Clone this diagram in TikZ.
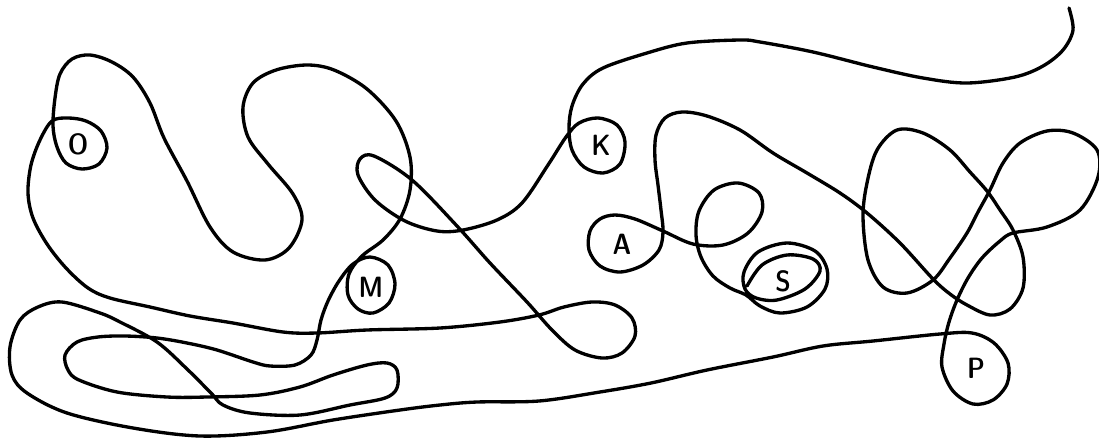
\documentclass[tikz,border=0pt]{standalone}
\tikzset{every picture/.style={line width=0.75pt}}
\tikzset{lbl/.style={inner sep=0.75pt, font=\fontsize{22}{22}\selectfont\sffamily\fontseries{sbc}\selectfont}}
\begin{document}
\begin{tikzpicture}[x=0.75pt,y=0.75pt,yscale=-1,xscale=1]
\useasboundingbox (0,0) rectangle (1099,443);

%Shape: Curve [id:scribble]
\draw [line width=2.5pt, line cap=round, line join=round] plot [smooth, tension=0.55] coordinates {
 (1069,8) (1073,30) (1063,50) (1043,66) (1015,77) (967,83) (923,78) (873,67) (813,52) (760,42) (740,40) (687,43) (647,53) (603,68) (583,84) (572,106) (569,128)
 (572,150) (584,167) (603,173) (620,164) (625,142) (617,125) (598,118) (579,123) (566,137)
 (548,165) (522,203) (497,220) (463,230) (437,231) (405,221) (375,200) (358,175) (360,159) (374,156) (412,180) (457,226) (490,263) (527,302) (552,330) (575,350) (602,358) (622,353) (635,336) (632,318) (615,305) (592,302) (564,307) (539,315) (500,322) (440,328) (367,330) (317,333) (283,332) (233,323) (190,316) (150,307) (110,298) (88,288) (66,268) (47,244) (33,218) (28,193) (31,165) (40,140) (52,121)
 (68,118) (86,121) (101,131) (107,148) (99,164) (82,169) (66,163) (57,147) (53,126)
 (55,98) (60,74) (72,59) (90,55) (112,62) (133,77) (150,103) (164,138) (187,181) (210,227) (233,252) (265,260) (289,248) (302,220) (293,194) (268,164) (248,137) (243,107) (253,83) (276,70) (307,65) (334,70) (367,89) (396,121) (410,157) (410,190) (400,219) (383,240) (362,256)
 (349,274) (348,295) (358,309) (373,313) (389,303) (395,284) (388,265) (370,257) (353,264)
 (339,281) (328,301) (321,320) (317,340) (311,355) (295,365) (270,366) (253,362) (217,350) (187,343) (157,338) (125,336) (98,337) (77,342) (65,355) (68,370) (79,380) (117,392) (167,397) (207,397) (260,395) (300,387) (333,375) (367,365) (387,363) (397,370) (397,388) (385,398) (350,405) (300,415) (250,413) (223,405) (211,393) (187,369) (157,342) (120,322) (100,313) (62,302) (38,307) (20,320) (10,347) (12,375) (27,393) (67,413) (133,428) (200,436) (267,432) (333,420) (400,410) (440,405) (477,402) (539,401) (600,392) (651,383) (707,370) (773,357) (823,346) (873,341) (940,334)
 (972,333) (994,343) (1008,363) (1007,384) (993,400) (973,404) (953,391) (942,367) (944,344) (949,322)
 (957,300) (968,278) (982,258) (1000,241) (1013,233) (1047,227) (1080,210) (1098,177) (1097,150) (1073,133) (1047,131) (1020,143) (1003,163) (990,190) (978,212) (967,233) (950,258) (933,280) (907,293) (883,287) (868,260) (863,217) (867,183) (877,150) (897,130) (923,133) (950,150) (970,172) (987,191) (1000,210) (1013,230) (1023,257) (1023,288) (1010,309) (990,315) (967,305) (950,294) (933,279) (900,243) (867,213) (840,193) (807,173) (773,153) (740,130) (707,116) (682,112) (665,118) (656,135) (655,160) (658,185) (661,210) (663,232) (659,250) (643,265) (620,272) (600,266) (589,250) (590,231) (600,219) (615,215) (635,219) (663,231) (693,244) (723,245) (748,233) (762,212) (759,193) (738,183) (714,190) (699,211) (696,235) (701,257) (713,276) (730,288) (746,295)
 (760,306) (780,313) (807,307) (825,289) (827,269) (815,251) (787,243) (758,252) (744,272) (745,289) (756,298) (777,300) (805,289) (820,271) (813,259) (787,255) (762,265) (747,286)
};

% Text Node
\node [lbl] (lblO) at (78,144) {O};
% Text Node
\node [lbl] (lblK) at (601,145) {K};
% Text Node
\node [lbl] (lblA) at (622,244) {A};
% Text Node
\node [lbl] (lblM) at (371,287) {M};
% Text Node
\node [lbl] (lblS) at (783,281) {S};
% Text Node
\node [lbl] (lblP) at (976,368) {P};

\end{tikzpicture}
\end{document}
